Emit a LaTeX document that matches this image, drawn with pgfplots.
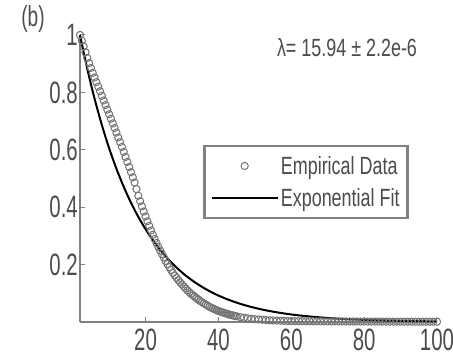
\documentclass[border=0pt]{standalone}
\usepackage{fontspec}
\setmainfont{Liberation Sans}[FakeStretch=0.72]
\newfontfamily\tickfont{Liberation Sans}[FakeStretch=0.66]
\usepackage{pgfplots}
\usepackage{pgfplotstable}
\pgfplotsset{compat=1.18}
\definecolor{axgray}{gray}{0.5}
\definecolor{mkgray}{gray}{0.45}
\definecolor{txt}{gray}{0.3}

\pgfplotsset{
  legmark/.style={legend image code/.code={\path (0bp,0bp) (66bp,0bp);
    \draw[##1] plot coordinates {(33bp,0bp)};}},
  legline/.style={legend image code/.code={\draw[##1] (0bp,0bp) -- (66bp,0bp);}},
}

\pgfplotstableread{
x y
2 1.000
2.5 0.980
3 0.960
3.5 0.940
4 0.920
4.5 0.902
5 0.885
5.5 0.868
6 0.852
6.5 0.836
7 0.820
7.5 0.804
8 0.788
8.5 0.772
9 0.756
9.5 0.740
10 0.724
10.5 0.708
11 0.692
11.5 0.676
12 0.660
12.5 0.643
13 0.627
13.5 0.610
14 0.593
14.5 0.575
15 0.558
15.5 0.540
16 0.522
16.5 0.504
17 0.486
17.5 0.463
18 0.440
18.5 0.421
19 0.403
19.5 0.385
20 0.368
20.5 0.351
21 0.335
21.5 0.319
22 0.304
22.5 0.289
23 0.275
23.5 0.262
24 0.249
24.5 0.237
25 0.225
25.5 0.213
26 0.202
26.5 0.191
27 0.181
27.5 0.171
28 0.162
28.5 0.154
29 0.146
29.5 0.138
30 0.131
30.5 0.124
31 0.117
31.5 0.110
32 0.104
32.5 0.098
33 0.093
33.5 0.088
34 0.083
34.5 0.078
35 0.073
35.5 0.069
36 0.065
36.5 0.061
37 0.057
37.5 0.053
38 0.050
38.5 0.047
39 0.044
39.5 0.041
40 0.039
40.5 0.036
41 0.034
41.5 0.032
42 0.030
42.5 0.028
43 0.026
43.5 0.024
44 0.023
44.5 0.021
45 0.020
46 0.017
47 0.015
48 0.013
49 0.011
50 0.010
51 0.009
52 0.008
53 0.007
54 0.006
55 0.0055
56 0.005
57 0.0045
58 0.004
59 0.0036
60 0.0032
61 0.0030
62 0.0029
63 0.0028
64 0.0027
65 0.0026
66 0.0025
67 0.0024
68 0.0023
69 0.0022
70 0.0021
71 0.0020
72 0.0020
73 0.0019
74 0.0019
75 0.0018
76 0.0018
77 0.0017
78 0.0017
79 0.0016
80 0.0016
81 0.0015
82 0.0015
83 0.0014
84 0.0014
85 0.0013
86 0.0013
87 0.0012
88 0.0012
89 0.0012
90 0.0011
91 0.0011
92 0.0011
93 0.0010
94 0.0010
95 0.0010
96 0.0009
97 0.0009
98 0.0009
99 0.0008
100 0.0008
}\empirical

\pgfplotstableread{
x y
2 1.0000
4 0.8821
6 0.7781
8 0.6864
10 0.6055
12 0.5341
14 0.4711
16 0.4156
18 0.3666
20 0.3234
22 0.2853
24 0.2516
26 0.2220
28 0.1958
30 0.1727
32 0.1523
34 0.1344
36 0.1185
38 0.1046
40 0.0922
42 0.0814
44 0.0718
46 0.0633
48 0.0558
50 0.0493
52 0.0434
54 0.0383
56 0.0338
58 0.0298
60 0.0263
62 0.0232
64 0.0205
66 0.0181
68 0.0159
70 0.0141
72 0.0124
74 0.0109
76 0.0097
78 0.0085
80 0.0075
82 0.0066
84 0.0059
86 0.0052
88 0.0046
90 0.0040
92 0.0036
94 0.0031
96 0.0028
98 0.0024
100 0.0021
}\fit

\begin{document}
\begin{tikzpicture}
\useasboundingbox (0,0) rectangle (453bp,359bp);
\begin{axis}[
  at={(80bp,37bp)}, anchor=south west,
  scale only axis, width=357bp, height=287bp,
  xmin=2, xmax=100, ymin=0, ymax=1,
  axis lines=left,
  axis line style={axgray, line width=1.5bp, -},
  xtick={20,40,60,80,100}, ytick={0.2,0.4,0.6,0.8,1},
  tick style={axgray, line width=1bp},
  tick align=inside, major tick length=5bp,
  ticklabel style={font=\tickfont\fontsize{31}{33}\selectfont, text=txt},
  yticklabel style={inner xsep=2bp},
  xticklabel style={yshift=-3bp},
  /pgf/number format/assume math mode=true,
  clip=false,
  legend cell align=left,
  legend style={at={(0.345,0.617)}, anchor=north west,
    draw=axgray, line width=2.5bp,
    font=\fontsize{25}{27}\selectfont, text=txt,
    inner xsep=6bp, inner ysep=8bp, row sep=9bp},
]
\addplot[only marks, mark=o, mark size=3.6bp, mkgray,
  mark options={line width=1bp}, legmark]
  table[x=x, y=y] {\empirical};
\addlegendentry{Empirical Data}
\addplot[black, line width=2bp, smooth, legline]
  table[x=x, y=y] {\fit};
\addlegendentry{Exponential Fit}
\end{axis}
\node[text=txt, font=\tickfont\fontsize{29}{31}\selectfont] at (33bp,340bp) {(b)};
\node[text=txt, font=\fontsize{25}{27}\selectfont] at (347bp,311bp) {λ= 15.94 ± 2.2e-6};
\end{tikzpicture}
\end{document}
